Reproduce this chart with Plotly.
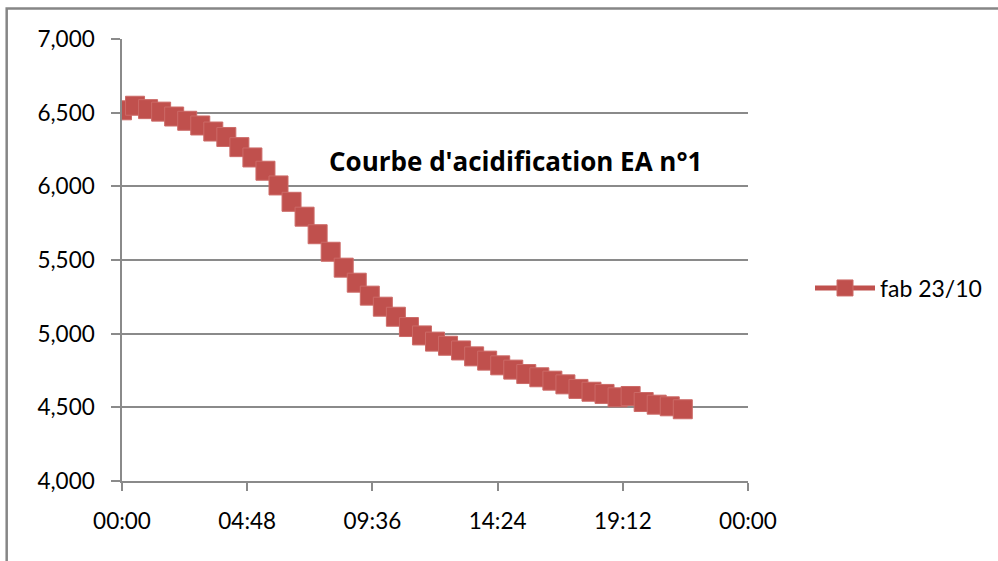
import plotly.graph_objects as go
import pandas as pd

# 30-minute readings from 00:00 to 21:30
times = pd.date_range("2000-01-01 00:00", periods=44, freq="30min")
values = [6516, 6547, 6524, 6507, 6474, 6445, 6413, 6372, 6335, 6266,
          6196, 6106, 6006, 5895, 5794, 5675, 5556, 5448, 5346, 5258,
          5183, 5115, 5045, 4988, 4946, 4918, 4886, 4846, 4817, 4785,
          4756, 4726, 4704, 4681, 4656, 4625, 4606, 4591, 4568, 4577,
          4536, 4518, 4507, 4487]
series_name = "fab 23/10"
title_text = "Courbe d'acidification EA n°1"

RED = "#C0504D"
GRID = "#8a8a8a"
FONT = "Lato, 'Open Sans', sans-serif"

fig = go.Figure()
fig.add_trace(go.Scatter(
    x=times, y=values, name=series_name, mode="lines+markers",
    line=dict(color=RED, width=5),
    marker=dict(symbol="square", size=19, color=RED,
                line=dict(color="#cc6a67", width=1)),
))

L, R, T, B = 122, 249, 39, 80
W, H = 998, 561
pw, ph = W - L - R, H - T - B

def px(x):
    return (x - L) / pw

def py(y):
    return (H - B - y) / ph

fig.update_layout(
    width=W, height=H,
    margin=dict(l=L, r=R, t=T, b=B),
    paper_bgcolor="white", plot_bgcolor="white",
    font=dict(family=FONT, size=22, color="#000000"),
    showlegend=True,
    legend=dict(x=px(810), y=py(288), xanchor="left", yanchor="middle",
                font=dict(size=23), itemwidth=60, bgcolor="rgba(0,0,0,0)"),
    xaxis=dict(
        type="date",
        range=["2000-01-01 00:00", "2000-01-02 00:00"],
        tick0="2000-01-01 00:00", dtick=4.8 * 3600 * 1000,
        tickformat="%H:%M",
        showgrid=False, zeroline=False,
        showline=True, linecolor=GRID, linewidth=1.5,
        ticks="outside", ticklen=8, tickcolor=GRID, tickwidth=1.5,
        ticklabelstandoff=11,
        tickfont=dict(size=22.5),
    ),
    yaxis=dict(
        range=[4000, 7000], dtick=500, tickformat=",d",
        showgrid=True, gridcolor=GRID, gridwidth=1.5,
        zeroline=False,
        showline=True, linecolor=GRID, linewidth=1.5,
        ticks="outside", ticklen=9, tickcolor=GRID, tickwidth=1.5,
        ticklabelstandoff=12,
        tickfont=dict(size=22.5),
    ),
    annotations=[dict(
        text=f"<b>{title_text}</b>", x=px(516), y=py(161),
        xref="paper", yref="paper", showarrow=False,
        font=dict(size=26, family="'Open Sans', Lato, sans-serif", color="#000000"),
        xanchor="center", yanchor="middle",
    )],
    shapes=[dict(
        type="rect", xref="paper", yref="paper",
        x0=px(6.5), x1=px(1010), y0=py(8.5), y1=py(575),
        line=dict(color="#868686", width=2.5), fillcolor="rgba(0,0,0,0)",
        layer="below",
    )],
)

fig.write_html("out.html")
